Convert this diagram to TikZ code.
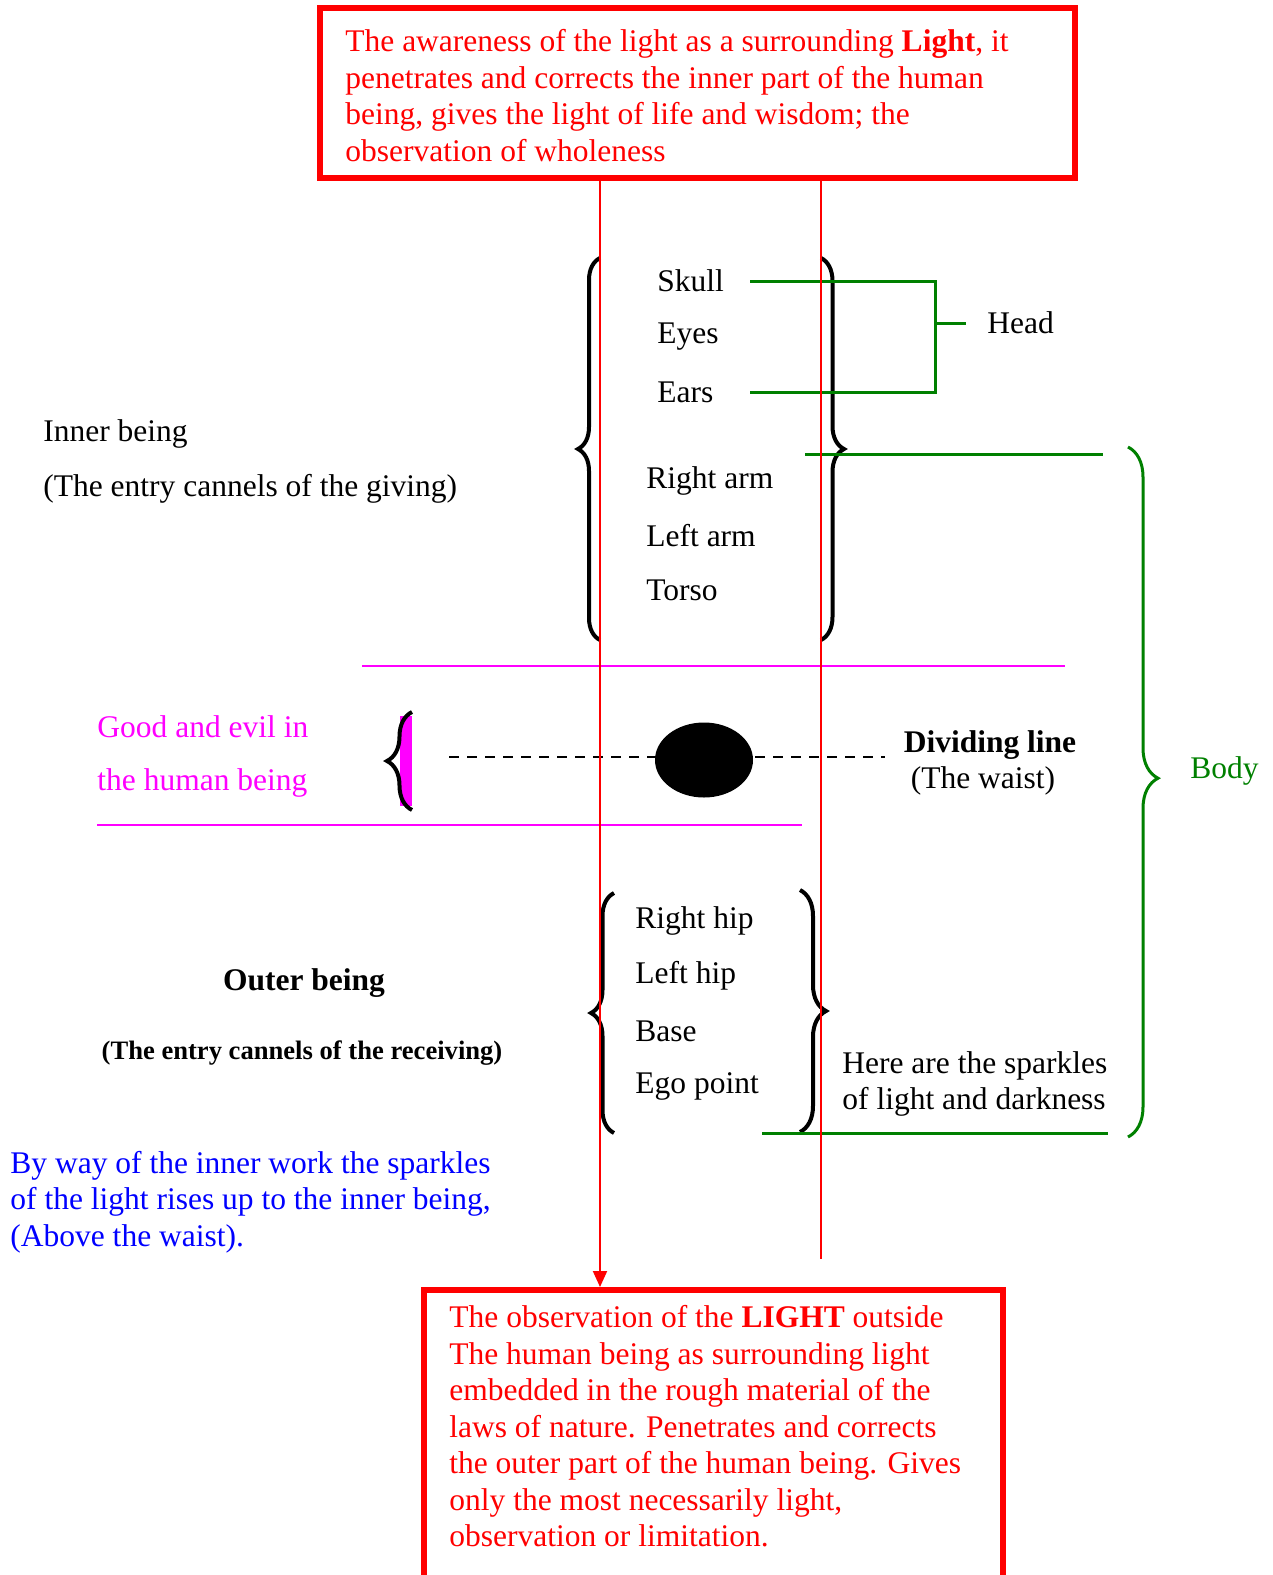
\documentclass[tikz,border=0pt]{standalone}
\usepackage{fontspec}
\setmainfont{Liberation Serif}
\usetikzlibrary{arrows.meta,decorations.pathreplacing,shapes.geometric}
\definecolor{wordgreen}{RGB}{0,128,0}
\definecolor{wordpink}{RGB}{255,0,255}
\newcommand{\bodysize}{\fontsize{15.75}{18.25}\selectfont}
\newcommand{\smallbold}{\fontsize{13.3}{15}\selectfont\bfseries}
\tikzset{
  lbl/.style={inner sep=0pt, anchor=west, font=\bodysize},
  redbox/.style={draw=red, line width=3pt},
  redline/.style={draw=red, line width=1pt},
  greenline/.style={draw=wordgreen, line width=1.5pt},
  pinkline/.style={draw=wordpink, line width=0.75pt},
  dashline/.style={draw=black, line width=1.2pt, dash pattern=on 5pt off 4pt},
  bracebig/.style={decorate, decoration={brace, amplitude=#1}, line width=2pt},
}

\begin{document}
\begin{tikzpicture}[x=0.5pt,y=-0.5pt]
\useasboundingbox (0,0) rectangle (1273,1575);

\node[redbox, minimum width=377.5pt, minimum height=85pt, inner sep=0pt] (topbox) at (697.5,93) {};
\node[lbl, anchor=north west, align=left, text=red] (toptxt) at (345,29)
  {The awareness of the light as a surrounding \textbf{Light}, it\\
   penetrates and corrects the inner part of the human\\
   being, gives the light of life and wisdom; the\\
   observation of wholeness};
\node[redbox, minimum width=289.5pt, minimum height=160pt, anchor=north, inner sep=0pt] (botbox) at (713.5,1287) {};
\node[lbl, anchor=north west, align=left, text=red] (bottxt) at (449,1305)
  {The observation of the \textbf{LIGHT} outside\\
   The human being as surrounding light\\
   embedded in the rough material of the\\
   laws of nature. Penetrates and corrects\\
   the outer part of the human being. Gives\\
   only the most necessarily light,\\
   observation or limitation.};

% upper body
\node[lbl] (skull) at (657,281) {Skull};
\node[lbl] (eyes) at (657,337) {Eyes};
\node[lbl] (ears) at (657,392) {Ears};
\node[lbl] (rarm) at (646,481) {Right arm};
\node[lbl] (larm) at (646,536) {Left arm};
\node[lbl] (torso) at (646,590) {Torso};
\node[lbl] (head) at (987,323) {Head};
\node[lbl] (inner) at (43,434) {Inner being};
\node[lbl] (giving) at (43,489) {(The entry cannels of the giving)};

% waist
\node[lbl, text=wordpink] (good) at (97,727) {Good and evil in};
\node[lbl, text=wordpink] (human) at (97,783) {the human being};
\node[inner sep=0pt, font=\bodysize\bfseries] (divide) at (990,745) {Dividing line};
\node[inner sep=0pt, font=\bodysize] (waisttxt) at (983,781) {(The waist)};

% lower body
\node[lbl] (rhip) at (635,921) {Right hip};
\node[lbl] (lhip) at (635,976) {Left hip};
\node[lbl] (base) at (635,1031) {Base};
\node[lbl] (ego) at (635,1086) {Ego point};
\node[inner sep=0pt, font=\bodysize\bfseries] (outer) at (304,983) {Outer being};
\node[inner sep=0pt, font=\smallbold] (receiving) at (302,1053) {(The entry cannels of the receiving)};
\node[lbl, align=left] (sparkles) at (842,1084) {Here are the sparkles\\of light and darkness};
\node[lbl, align=left, text=blue] (inwork) at (10,1202)
  {By way of the inner work the sparkles\\
   of the light rises up to the inner being,\\
   (Above the waist).};
\node[lbl, text=wordgreen] (body) at (1190,771) {Body};

\coordinate (pink-a) at (362,666);
\coordinate (pink-b) at (1065,666);
\coordinate (pink-c) at (97,825);
\coordinate (pink-d) at (802,825);
\coordinate (dash-l) at (449,757);
\coordinate (dash-r) at (885,757);
\coordinate (green-a) at (805,454);
\coordinate (green-b) at (1103,454);
\coordinate (green-c) at (762,1133);
\coordinate (green-d) at (1108,1133);
\coordinate (rend) at (821,1259);

\draw[pinkline] (pink-a) -- (pink-b);
\draw[pinkline] (pink-c) -- (pink-d);
\draw[dashline] (dash-l) -- (dash-r);
\node[ellipse, fill=black, minimum width=49pt, minimum height=37.5pt, inner sep=0pt] (waist) at (704,760) {};

% braces
\fill[wordpink] (400,716) rectangle (412,806);
\draw[bracebig=12.5pt] (412,810) -- (412,712);
\draw[bracebig=11pt] (600,640) -- (600,258);
\draw[bracebig=11.5pt] (821,258) -- (821,640);
\draw[bracebig=11.5pt] (614,1133) -- (614,893);
\draw[bracebig=13pt] (800,890) -- (800,1132);
\draw[decorate, decoration={brace, amplitude=15pt, aspect=0.48}, draw=wordgreen, line width=1.5pt] (1128,447) -- (1128,1137);

\draw[greenline] (skull.east -| 750,0) -- (skull.east -| 935,0) -- (ears.east -| 935,0) -- (ears.east -| 750,0);
\draw[greenline] (head.west -| 935,0) -- ([xshift=-10.5pt]head.west);
\draw[greenline] (green-a) -- (green-b);
\draw[greenline] (green-c) -- (green-d);

\draw[redline, -{Triangle[length=8pt,width=7pt]}] (topbox.south -| 600,0) -- (botbox.north -| 600,0);
\draw[redline] (topbox.south -| 821,0) -- (rend);
\end{tikzpicture}
\end{document}
